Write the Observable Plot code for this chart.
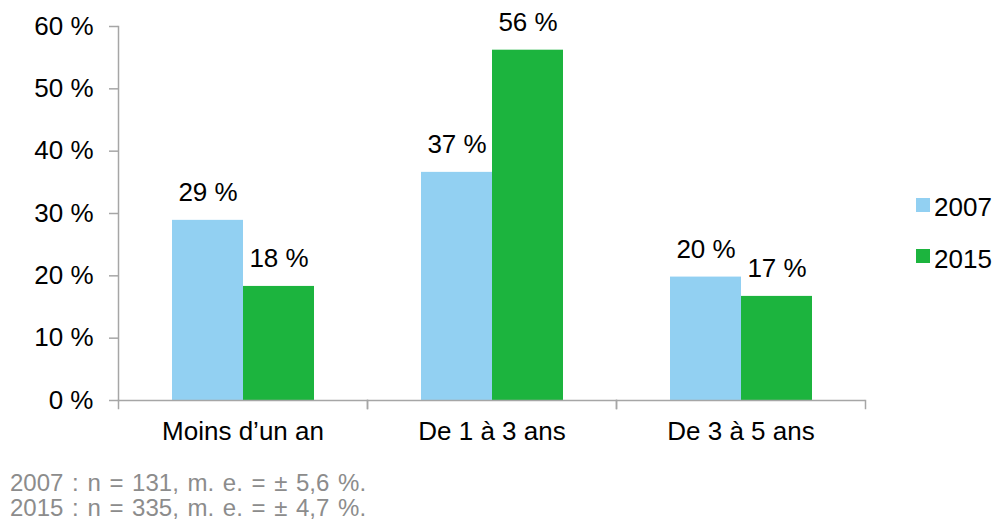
<!DOCTYPE html>
<html><head><meta charset="utf-8">
<script src="https://cdn.jsdelivr.net/npm/d3@7"></script>
<script src="https://cdn.jsdelivr.net/npm/@observablehq/plot@0.6"></script>
<style>
body{margin:0;background:#fff;font-family:"Liberation Sans",Arial,sans-serif;}
#wrap{position:relative;width:995px;height:523px;overflow:hidden;}
#wrap svg{display:block;}
#footer{padding-left:10px;font-size:24px;line-height:25px;word-spacing:2px;color:#8c8c8c;white-space:nowrap;}
.leg{position:absolute;left:934px;font-size:26px;line-height:30px;color:#000;}
.sw{position:absolute;left:916px;width:14px;height:14px;}
</style></head><body><div id="wrap"></div>
<script>
const categories = ["Moins d’un an", "De 1 à 3 ans", "De 3 à 5 ans"];
const years = ["2007", "2015"];
const values2007 = [28.9, 36.6, 19.8];
const values2015 = [18.3, 56.2, 16.7];
const yTicks = [0, 10, 20, 30, 40, 50, 60];
const colors = ["#92D0F2", "#1CB43E"];
const footerLines = ["2007 : n = 131, m. e. = ± 5,6 %.", "2015 : n = 335, m. e. = ± 4,7 %."];

const data = categories.flatMap((c, i) => [
  {category: c, year: years[0], value: values2007[i]},
  {category: c, year: years[1], value: values2015[i]}
]);

const axisColor = "#a6a6a6";
const W = 995, H = 470, mt = 26, mb = 70, ml = 117, mr = 129;
const font = "'Liberation Sans', Arial, sans-serif";

const chart = Plot.plot({
  width: W, height: H, marginTop: mt, marginBottom: mb, marginLeft: ml, marginRight: mr,
  style: {fontFamily: font, fontSize: "26px", background: "#fff", color: "#000", overflow: "visible"},
  fx: {domain: categories, padding: 0, label: null},
  x: {domain: years, paddingInner: 0, paddingOuter: 0.746, axis: null},
  y: {domain: [0, 60], label: null, axis: null},
  color: {domain: years, range: colors},
  marks: [
    Plot.barY(data, {fx: "category", x: "year", y: "value", fill: "year", inset: 0}),
    Plot.text(data, {fx: "category", x: "year", y: "value", text: d => Math.round(d.value) + " %",
      lineAnchor: "bottom", dy: -19, fontSize: 26, fill: "#000"}),
    Plot.ruleY([0], {stroke: axisColor, strokeWidth: 1.5}),
    Plot.frame({anchor: "left", facetAnchor: "left", stroke: axisColor, strokeWidth: 1.5}),
    Plot.frame({anchor: "left", insetTop: H - mt - mb, insetBottom: -8, stroke: axisColor, strokeWidth: 1.5}),
    Plot.frame({anchor: "right", insetTop: H - mt - mb, insetBottom: -8, stroke: axisColor, strokeWidth: 1.5}),
    Plot.axisY({ticks: yTicks, tickFormat: d => d + " %", tickSize: 9, tickPadding: 16,
      stroke: axisColor, strokeWidth: 1.5, fill: "#000", fontSize: 26, label: null}),
    Plot.axisFx({anchor: "bottom", tickSize: 0, tickPadding: 21, fontSize: 26, label: null, fill: "#000"})
  ]
});

const wrap = document.getElementById("wrap");
wrap.appendChild(chart);

const footer = document.createElement("div");
footer.id = "footer";
footerLines.forEach(t => { const d = document.createElement("div"); d.textContent = t; footer.appendChild(d); });
wrap.appendChild(footer);

const legTops = [192, 243.5];
const swTops = [198, 248.5];
years.forEach((y, i) => {
  const sw = document.createElement("div");
  sw.className = "sw"; sw.style.top = swTops[i] + "px"; sw.style.background = colors[i];
  wrap.appendChild(sw);
  const t = document.createElement("div");
  t.className = "leg"; t.style.top = legTops[i] + "px"; t.textContent = y;
  wrap.appendChild(t);
});
</script></body></html>
